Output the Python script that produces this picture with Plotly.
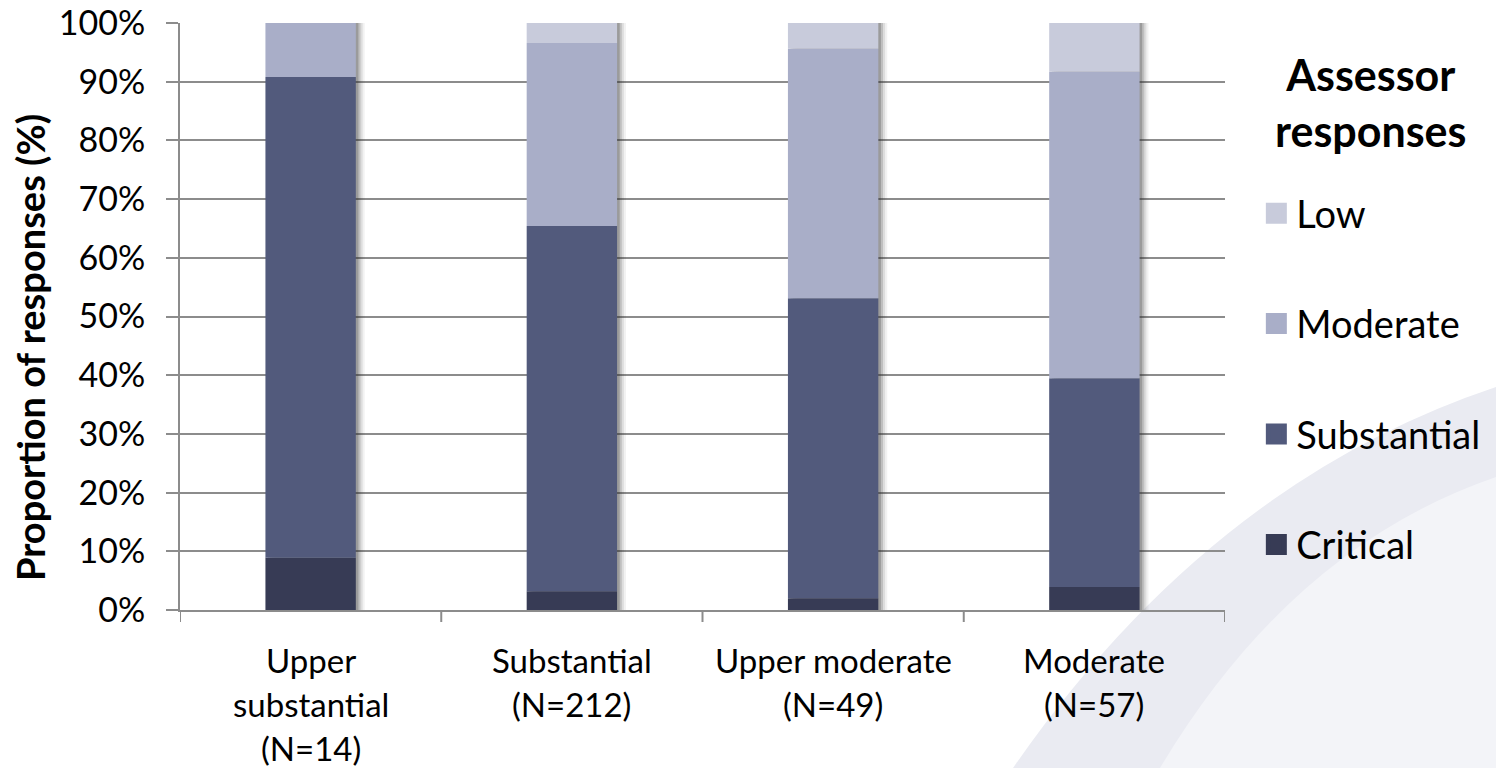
import numpy as np
import plotly.graph_objects as go

# Risk bands assessed (x categories) and the share of assessor responses in each
categories = ["Upper substantial", "Substantial", "Upper moderate", "Moderate"]
label_lines = [["Upper", "substantial"], ["Substantial"], ["Upper moderate"], ["Moderate"]]
sample_sizes = [14, 212, 49, 57]

critical = [8.9, 3.2, 2.0, 3.9]
substantial = [81.9, 62.2, 51.1, 35.6]
moderate = [9.2, 31.2, 42.5, 52.2]
low = [0.0, 3.4, 4.4, 8.3]

y_ticks = [0, 10, 20, 30, 40, 50, 60, 70, 80, 90, 100]

series = [
    ("Critical", critical, "#373b55"),
    ("Substantial", substantial, "#525a7c"),
    ("Moderate", moderate, "#a9aec8"),
    ("Low", low, "#c8cbdb"),
]

FONT = "Lato, 'Open Sans', sans-serif"
W, H = 1496, 768
L, R, T, B = 180, 271, 23, 158
PW, PH = W - L - R, H - T - B

x = np.arange(len(categories))
totals = np.sum([critical, substantial, moderate, low], axis=0)
bar_w = 0.346


def px(xp):
    return (xp - L) / PW


def py(yp):
    return (H - B - yp) / PH


fig = go.Figure()

# soft drop shadow on the right of each column
for shift, alpha in [(0.034, 0.06), (0.026, 0.10), (0.018, 0.16), (0.010, 0.24)]:
    fig.add_trace(go.Bar(
        x=x + shift, y=totals, base=0, width=bar_w,
        marker=dict(color=f"rgba(40,40,40,{alpha})", line=dict(width=0)),
        showlegend=False, hoverinfo="skip",
    ))

# stacked segments
base = np.zeros(len(categories))
for name, vals, color in series:
    vals = np.array(vals, dtype=float)
    fig.add_trace(go.Bar(
        x=x, y=vals, base=base.copy(), width=bar_w, name=name,
        marker=dict(color=color, line=dict(width=0)),
        showlegend=False,
    ))
    base += vals

# legend entries (Low at the top) with larger square swatches
for name, vals, color in reversed(series):
    fig.add_trace(go.Scatter(
        x=[None], y=[None], mode="markers", name=name, legendgroup=name,
        marker=dict(symbol="square", size=16, color=color,
                    line=dict(color=color, width=5)),
    ))

# category labels, one line at a time for wide line spacing
for xi, lines, n in zip(x, label_lines, sample_sizes):
    for j, line in enumerate(lines + [f"(N={n})"]):
        fig.add_annotation(
            x=xi, y=0, xref="x", yref="paper", yanchor="middle",
            yshift=-(50 + 44 * j), text=line, showarrow=False,
            font=dict(family=FONT, size=33, color="#000000"),
        )

# legend heading
fig.add_annotation(
    x=px(1370), y=py(102), xref="paper", yref="paper",
    xanchor="center", yanchor="middle", showarrow=False,
    text="<b>Assessor<br>responses</b>",
    font=dict(family=FONT, size=43, color="#000000"),
)

# y axis title
fig.add_annotation(
    x=px(30), y=py(348), xref="paper", yref="paper",
    xanchor="center", yanchor="middle", showarrow=False, textangle=-90,
    text="<b>Proportion of responses (%)</b>",
    font=dict(family=FONT, size=38, color="#000000"),
)

# background swoosh in the lower right
outer = f"M {px(1013)},{py(768)} Q {px(1211)},{py(482)} {px(1496)},{py(387)} L {px(1496)},{py(768)} Z"
inner = f"M {px(1160)},{py(768)} Q {px(1292)},{py(547)} {px(1496)},{py(477)} L {px(1496)},{py(768)} Z"
fig.add_shape(type="path", path=outer, xref="paper", yref="paper",
              fillcolor="#eaebf2", line=dict(width=0), layer="below")
fig.add_shape(type="path", path=inner, xref="paper", yref="paper",
              fillcolor="#f3f4f8", line=dict(width=0), layer="below")

fig.update_layout(
    width=W, height=H,
    margin=dict(l=L, r=R, t=T, b=B, autoexpand=False),
    paper_bgcolor="#ffffff", plot_bgcolor="rgba(0,0,0,0)",
    barmode="overlay",
    font=dict(family=FONT, color="#000000"),
    legend=dict(
        x=1.03, xanchor="left", y=py(182), yanchor="top",
        traceorder="grouped", tracegroupgap=58,
        font=dict(family=FONT, size=38, color="#000000"),
        bgcolor="rgba(0,0,0,0)",
    ),
    xaxis=dict(
        range=[-0.5, len(categories) - 0.5],
        tickvals=list(x), ticktext=[""] * len(categories),
        showgrid=False, zeroline=False, automargin=False,
        showline=True, linecolor="#8c8c8c", linewidth=2,
        ticks="", showticklabels=False,
    ),
    yaxis=dict(
        range=[0, 100], tickvals=y_ticks, ticktext=[f"{v}%" for v in y_ticks],
        showgrid=True, gridcolor="#8c8c8c", gridwidth=2, zeroline=False,
        showline=True, linecolor="#8c8c8c", linewidth=2, automargin=False,
        ticks="outside", ticklen=12, tickcolor="#8c8c8c", tickwidth=2,
        ticklabelstandoff=14,
        tickfont=dict(family=FONT, size=34, color="#000000"),
    ),
)

# tick marks on the category boundaries of the x axis
for b in np.arange(len(categories) + 1) - 0.5:
    fig.add_shape(type="line", x0=b, x1=b, xref="x", y0=0, y1=-12, yref="y domain",
                  yanchor=0, ysizemode="pixel", line=dict(color="#8c8c8c", width=2))

fig.write_html("out.html")
